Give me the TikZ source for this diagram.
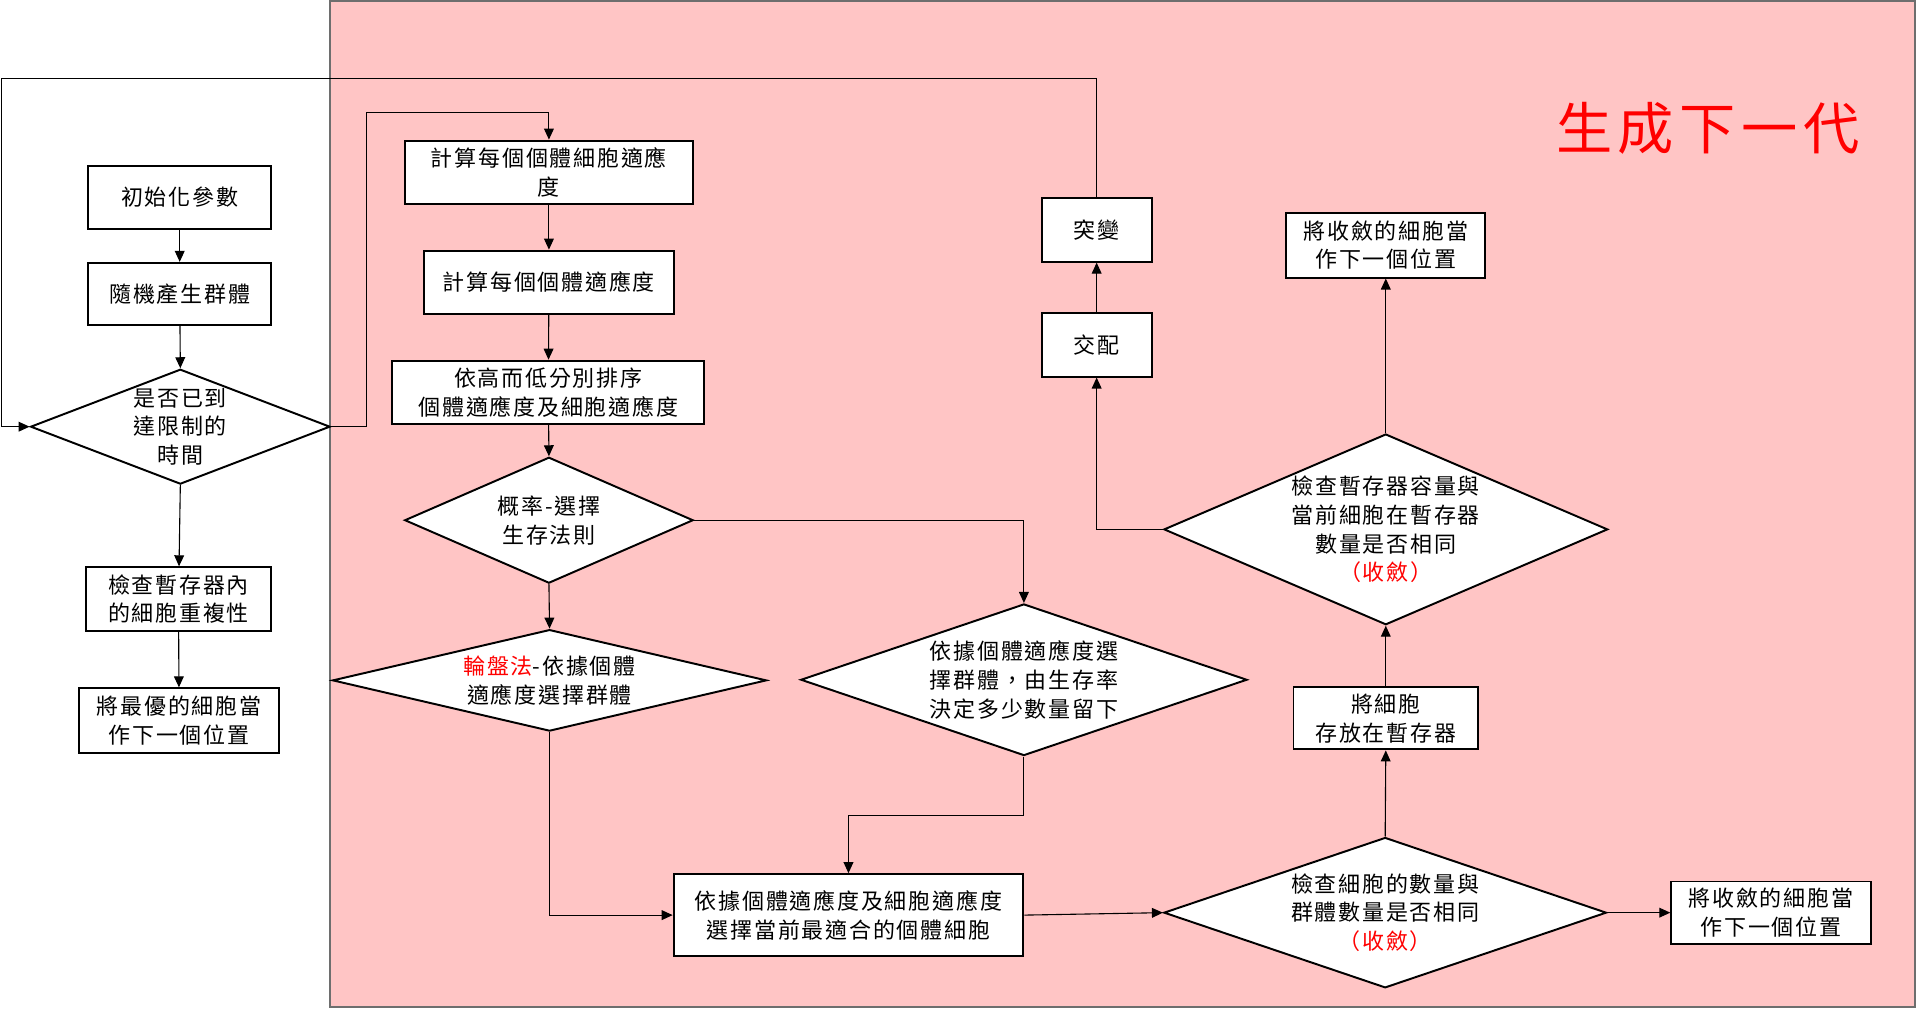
\documentclass[tikz,border=0pt]{standalone}
\usepackage{fontspec}
\usetikzlibrary{arrows.meta,shapes.geometric}
\newfontfamily\cjk[LetterSpace=8]{Noto Sans CJK TC}
\newfontfamily\cjktitle[LetterSpace=10]{Noto Sans CJK TC}
\definecolor{pinkbg}{RGB}{255,197,197}
\definecolor{redtxt}{RGB}{255,0,0}
\definecolor{edgegray}{RGB}{110,110,110}
\begin{document}
\begin{tikzpicture}[x=0.5pt,y=-0.5pt,
  box/.style={draw=black, line width=0.8pt, fill=white, inner sep=0pt, align=center, font=\cjk\fontsize{9}{11.8}\selectfont},
  dia/.style={draw=black, line width=0.8pt, fill=white, diamond, inner sep=0pt},
  txt/.style={inner sep=0pt, align=center, font=\cjk\fontsize{9}{11.8}\selectfont},
  conn/.style={line width=0.45pt, -{Triangle[length=4.5pt,width=4pt]}},
  plain/.style={line width=0.45pt}
]
\useasboundingbox (0,0) rectangle (1568,825);
% pink region
\draw[fill=pinkbg, draw=edgegray, line width=0.7pt] (270,0.8) rectangle (1566.5,823.5);
\node[font=\cjktitle\fontsize{23}{26}\selectfont, text=redtxt, inner sep=0pt] (title) at (1397,105) {生成下一代};

% left column
\node[box, minimum width=75pt, minimum height=25.5pt] (b1) at (147,161.5) {初始化參數};
\node[box, minimum width=75pt, minimum height=25.5pt] (b2) at (147,240.5) {隨機產生群體};
\node[dia, minimum width=122.5pt, minimum height=47pt] (d1) at (147.5,349) {};
\node[txt] (d1t) at (d1) {是否已到\\達限制的\\時間};
\node[box, minimum width=76pt, minimum height=26pt] (b3) at (146,490) {檢查暫存器內\\的細胞重複性};
\node[box, minimum width=81.5pt, minimum height=26.5pt] (b4) at (146.5,589.5) {將最優的細胞當\\作下一個位置};

% middle column
\node[box, minimum width=118pt, minimum height=26pt] (m1) at (449,141) {計算每個個體細胞適應\\度};
\node[box, minimum width=102pt, minimum height=26pt] (m2) at (449,231) {計算每個個體適應度};
\node[box, minimum width=127.5pt, minimum height=26pt] (m3) at (448.5,321) {依高而低分別排序\\個體適應度及細胞適應度};
\node[dia, minimum width=118pt, minimum height=51.5pt] (d2) at (449,425.5) {};
\node[txt] (d2t) at (d2) {概率-選擇\\生存法則};
\node[dia, minimum width=177.5pt, minimum height=41.5pt] (d3) at (449.5,556.5) {};
\node[txt] (d3t) at (d3) {\textcolor{redtxt}{輪盤法}-依據個體\\適應度選擇群體};
\node[dia, minimum width=182.5pt, minimum height=62pt] (d4) at (837.5,556) {};
\node[txt] (d4t) at (d4) {依據個體適應度選\\擇群體，由生存率\\決定多少數量留下};
\node[box, minimum width=143pt, minimum height=33.5pt] (m4) at (694,748.5) {依據個體適應度及細胞適應度\\選擇當前最適合的個體細胞};

% right part
\node[dia, minimum width=181pt, minimum height=61.5pt] (d5) at (1133,746.5) {};
\node[txt] (d5t) at (d5) {檢查細胞的數量與\\群體數量是否相同\\\textcolor{redtxt}{（收斂）}};
\node[box, minimum width=81.5pt, minimum height=25.5pt] (r1) at (1448.5,746.5) {將收斂的細胞當\\作下一個位置};
\node[box, minimum width=75.5pt, minimum height=25.5pt] (r2) at (1133.5,587.5) {將細胞\\存放在暫存器};
\node[dia, minimum width=181.5pt, minimum height=78pt] (d6) at (1133.5,433) {};
\node[txt] (d6t) at (d6) {檢查暫存器容量與\\當前細胞在暫存器\\數量是否相同\\\textcolor{redtxt}{（收斂）}};
\node[box, minimum width=81.5pt, minimum height=26.5pt] (r3) at (1133.5,200.5) {將收斂的細胞當\\作下一個位置};
\node[box, minimum width=45pt, minimum height=26pt] (x1) at (897,282) {交配};
\node[box, minimum width=45pt, minimum height=26pt] (x2) at (897,188) {突變};

\coordinate (c1) at (300,92);
\coordinate (lt) at (1,64);

% connectors
\draw[conn] (b1) -- (b2);
\draw[conn] (b2) -- (d1.north);
\draw[conn] (d1.south) -- (b3);
\draw[conn] (b3) -- (b4);
\draw[conn] (d1.east) -| (c1) -| (m1.north);
\draw[conn] (m1) -- (m2);
\draw[conn] (m2) -- (m3);
\draw[conn] (m3) -- (d2.north);
\draw[conn] (d2.south) -- (d3.north);
\draw[conn] (d2.east) -| (d4.north);
\draw[conn] (d3.south) |- (m4.west);
\draw[conn] (d4.south) -- ++(0,48) -| (m4.north);
\draw[conn] (m4.east) -- (d5.west);
\draw[conn] (d5.east) -- (r1.west);
\draw[conn] (d5.north) -- (r2.south);
\draw[conn] (r2.north) -- (d6.south);
\draw[conn] (d6.north) -- (r3.south);
\draw[conn] (d6.west) -| (x1.south);
\draw[conn] (x1.north) -- (x2.south);
\draw[conn] (x2.north) |- (lt) |- (d1.west);
\end{tikzpicture}
\end{document}
